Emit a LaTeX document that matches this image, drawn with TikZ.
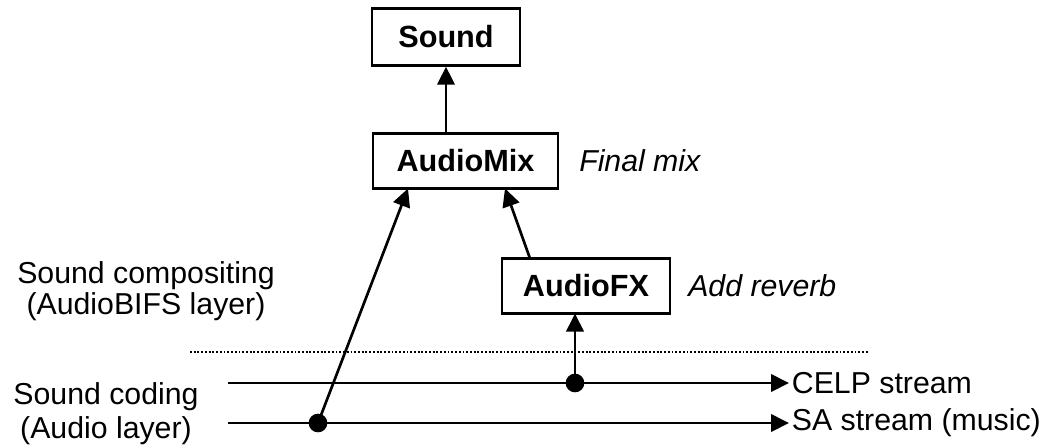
\documentclass[tikz,border=0pt]{standalone}
\usepackage{fontspec}
\setmainfont{Liberation Sans}
\usetikzlibrary{arrows.meta}
\begin{document}
\begin{tikzpicture}[x=0.75pt,y=-0.75pt,
  every node/.style={font=\fontsize{22.7}{26}\selectfont},
  box/.style={draw,line width=1.8pt,inner sep=0pt,font=\fontsize{23}{26}\selectfont\bfseries},
  arr/.style={line width=2pt,-{Triangle[length=13.5pt,width=13pt]}},
  dotc/.style={circle,fill,inner sep=0pt,minimum size=14pt},
  note/.style={anchor=west,inner sep=0pt,font=\fontsize{22.7}{26}\selectfont\itshape},
  lbl/.style={align=center,inner sep=0pt}]
\useasboundingbox (0,0) rectangle (1057,447);
\node[box,minimum width=111pt,minimum height=42.75pt] (sound) at (446,37) {Sound};
\node[box,minimum width=138.75pt,minimum height=41.25pt] (mix) at (465.5,161) {AudioMix};
\node[box,minimum width=126pt,minimum height=41.25pt] (fx) at (586,286) {AudioFX};
\node[note] (final) at (579,161) {Final mix};
\node[note] (reverb) at (688,286) {Add reverb};
\node[lbl,font=\fontsize{22.7}{23.5}\selectfont] (comp) at (146,291) {Sound compositing\\(AudioBIFS layer)};
\node[lbl,font=\fontsize{22.7}{25.5}\selectfont] (coding) at (106,414) {Sound coding\\(Audio layer)};
\node[anchor=west,inner sep=2pt] (celp) at (789,383) {CELP stream};
\node[anchor=west,inner sep=2pt] (sa) at (789,423) {SA stream (music)};
\coordinate (c0) at (228,383);
\coordinate (s0) at (228,423);
\node[dotc] (d1) at (575,383) {};
\node[dotc] (d2) at (318,423) {};
\coordinate (m1) at (408,188.5);
\coordinate (m2) at (505,188.5);
\coordinate (f1) at (530,258.5);
\coordinate (f2) at (575,313.5);
\coordinate (dl) at (190,352);
\coordinate (dr) at (868,352);
\draw[line width=1.8pt,dash pattern=on 1.4pt off 1.4pt] (dl) -- (dr);
\draw[arr] (c0) -- (celp.west);
\draw[arr] (s0) -- (sa.west);
\draw[arr] (sound.south |- mix.north) -- (sound.south);
\draw[arr] (d2.center) -- (m1);
\draw[arr] (f1) -- (m2);
\draw[arr] (d1.center) -- (f2);
\end{tikzpicture}
\end{document}
